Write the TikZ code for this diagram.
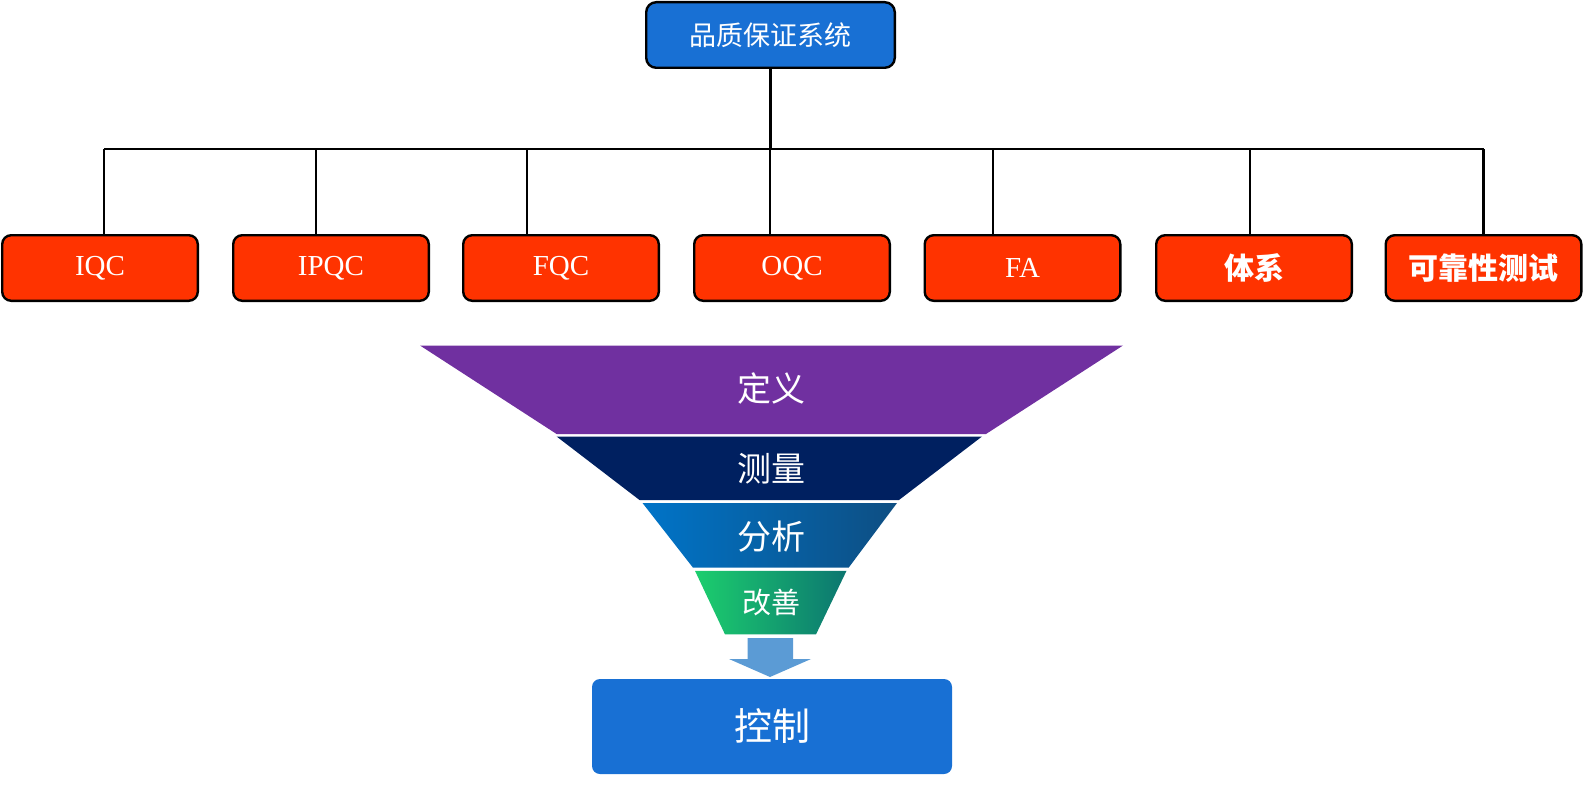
\documentclass[tikz,border=0pt]{standalone}
\usepackage{fontspec}
\setmainfont{Liberation Serif}
\newfontfamily\cjk{Noto Sans CJK SC}
\definecolor{topblue}{RGB}{24,112,212}
\definecolor{qred}{RGB}{255,51,0}
\definecolor{fpurple}{RGB}{112,48,160}
\definecolor{fnavy}{RGB}{0,32,96}
\definecolor{fblueL}{RGB}{0,116,200}
\definecolor{fblueR}{RGB}{14,78,130}
\definecolor{fgreenL}{RGB}{28,206,110}
\definecolor{fgreenR}{RGB}{12,118,112}
\definecolor{arrowblue}{RGB}{91,155,213}
\begin{document}
\begin{tikzpicture}[x=0.5pt,y=-0.5pt,
  topbox/.style={draw=black, line width=1.2pt, fill=topblue, rounded corners=5pt,
    minimum width=124.3pt, minimum height=32.8pt, inner sep=0pt, text=white,
    font=\cjk\fontsize{13.5}{16}\selectfont},
  redbox/.style={draw=black, line width=1.2pt, fill=qred, rounded corners=4.5pt,
    minimum width=97.8pt, minimum height=32.8pt, inner sep=0pt, text=white,
    font=\fontsize{14.5}{17}\selectfont},
  cjkred/.style={redbox, font=\cjk\bfseries\fontsize{15}{18}\selectfont},
  tree/.style={draw=black, line width=1.2pt},
  flabel/.style={text=white, inner sep=0pt, font=\cjk\fontsize{17}{20}\selectfont},
  ctrlbox/.style={fill=topblue, rounded corners=4pt, minimum width=180pt,
    minimum height=47.5pt, inner sep=0pt, text=white,
    font=\cjk\fontsize{19}{22}\selectfont}]
\useasboundingbox (0,0) rectangle (1584,797);

% top node
\node[topbox] (top) at (770.5,35) {品质保证系统};

% second level
\node[redbox] (iqc)  at (100,268)    {IQC};
\node[redbox] (ipqc) at (331,268)    {IPQC};
\node[redbox] (fqc)  at (561,268)    {FQC};
\node[redbox] (oqc)  at (792,268)    {OQC};
\node[redbox] (fa)   at (1022.5,268) {FA};
\node[cjkred] (tx)   at (1254,268)   {体系};
\node[cjkred] (kk)   at (1483.5,268) {可靠性测试};

% bus coordinates
\coordinate (b1) at (104,149);
\coordinate (b2) at (316,149);
\coordinate (b3) at (527,149);
\coordinate (b4) at (770,149);
\coordinate (b5) at (993,149);
\coordinate (b6) at (1250,149);
\coordinate (b7) at (1483.5,149);

\draw[tree] (top.south) -- (top.south |- b4);
\draw[tree] (b1) -- (b7);
\draw[tree] (b1) -- (b1 |- iqc.north);
\draw[tree] (b2) -- (b2 |- ipqc.north);
\draw[tree] (b3) -- (b3 |- fqc.north);
\draw[tree] (b4) -- (b4 |- oqc.north);
\draw[tree] (b5) -- (b5 |- fa.north);
\draw[tree] (b6) -- (b6 |- tx.north);
\draw[tree] (b7) -- (b7 |- kk.north);

% funnel
\fill[fpurple] (420,345.5) -- (1123,345.5) -- (986,434) -- (556.6,434) -- cycle;
\fill[fnavy] (556.6,436.5) -- (982,436.5) -- (899,500) -- (639.5,500) -- cycle;
\shade[left color=fblueL, right color=fblueR]
  (642.5,503) -- (897,503) -- (848.6,567.7) -- (693,567.7) -- cycle;
\shade[left color=fgreenL, right color=fgreenR]
  (695,570.8) -- (846.5,570.8) -- (816,634.4) -- (725,634.4) -- cycle;

\node[flabel] (dy) at (771,389) {定义};
\node[flabel] (cl) at (771,469) {测量};
\node[flabel] (fx) at (771,537) {分析};
\node[flabel, font=\cjk\fontsize{14.5}{17}\selectfont] (gs) at (771,603) {改善};

% arrow
\fill[arrowblue] (747.5,638) -- (793,638) -- (793,659) -- (811,659) -- (770,677)
  -- (729,659) -- (747.5,659) -- cycle;

% control box
\node[ctrlbox] (kz) at (772,726.5) {控制};
\end{tikzpicture}
\end{document}
